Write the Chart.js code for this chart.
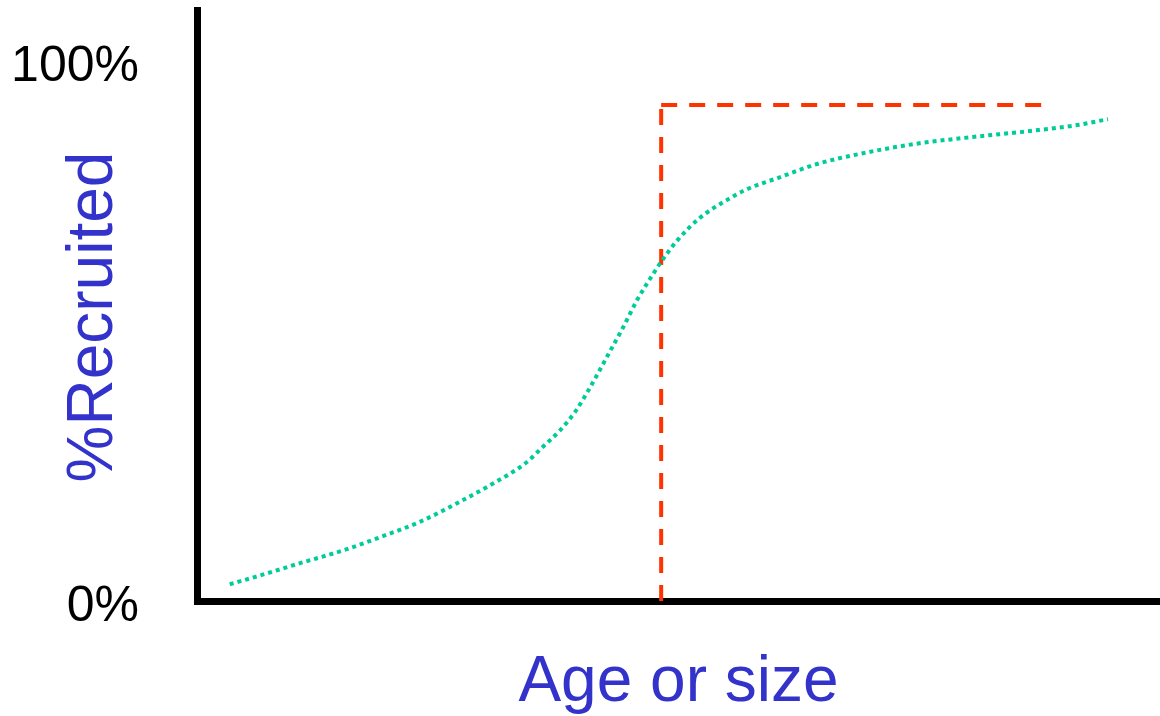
<!DOCTYPE html>
<html>
<head>
<meta charset="utf-8">
<script src="https://cdn.jsdelivr.net/npm/chart.js@4"></script>
<style>
  html, body { margin: 0; padding: 0; background: #fff; }
  #wrap { width: 1160px; height: 716px; }
</style>
</head>
<body>
<div id="wrap"><canvas id="selectChart" width="1160" height="716"></canvas></div>
<script>
// selectivity curve (age/size units on x, % recruited on y)
const curveX = [0.34, 0.65, 1.07, 1.54, 1.93, 2.32, 2.70, 3.06, 3.41, 3.59, 3.77, 3.93, 4.10, 4.26, 4.42, 4.57, 4.75, 4.84, 4.99, 5.22, 5.50, 5.72, 6.03, 6.44, 6.92, 7.49, 8.06, 8.65, 9.14, 9.46];
const curveY = [3.1, 4.7, 7.0, 9.5, 12.0, 14.7, 18.1, 21.6, 25.5, 28.5, 31.6, 35.1, 40.1, 45.3, 50.5, 55.7, 60.9, 63.3, 66.8, 70.9, 74.2, 76.3, 78.3, 80.9, 82.9, 84.7, 85.9, 87.0, 88.1, 89.2];

// knife-edge recruitment
const knifeX = [4.82, 4.82, 8.78];
const knifeY = [0, 91.8, 91.8];

const yTickValues = [0, 100];
const yTickLabels = ["0%", "100%"];
const xTitle = "Age or size";
const yTitle = "%Recruited";

const FONT = "'Liberation Sans', Arial, Helvetica, sans-serif";
const BLUE = "#3333cc";

const toPoints = (xs, ys) => xs.map((x, i) => ({ x: x, y: ys[i] }));

// y title sits over the tick label column, so draw it by hand
const yTitlePlugin = {
    id: "yTitle",
    afterDraw(chart) {
        const ctx = chart.ctx;
        ctx.save();
        ctx.translate(112, 317);
        ctx.rotate(-Math.PI / 2);
        ctx.font = "64px " + FONT;
        ctx.fillStyle = BLUE;
        ctx.textAlign = "center";
        ctx.textBaseline = "alphabetic";
        ctx.fillText(yTitle, 0, 0);
        ctx.restore();
    },
};

new Chart(document.getElementById("selectChart"), {
    type: "line",
    data: {
        datasets: [
            {
                data: toPoints(curveX, curveY),
                borderColor: "#00cc99",
                borderWidth: 4,
                borderDash: [4, 4],
                borderCapStyle: "butt",
                cubicInterpolationMode: "monotone",
                pointRadius: 0,
                fill: false,
            },
            {
                data: toPoints(knifeX.slice(0, 2), knifeY.slice(0, 2)),
                borderColor: "#ff3300",
                borderWidth: 4,
                borderDash: [16, 12],
                pointRadius: 0,
                tension: 0,
                fill: false,
            },
            {
                data: toPoints(knifeX.slice(1), knifeY.slice(1)),
                borderColor: "#ff3300",
                borderWidth: 4,
                borderDash: [16, 12],
                pointRadius: 0,
                tension: 0,
                fill: false,
            },
        ],
    },
    options: {
        responsive: false,
        animation: false,
        layout: { padding: { top: 10, right: 0, bottom: 0, left: 0 } },
        plugins: {
            legend: { display: false },
            tooltip: { enabled: false },
        },
        scales: {
            x: {
                type: "linear",
                min: 0,
                max: 10,
                grid: { display: false, drawTicks: false },
                border: { display: true, color: "#000", width: 7 },
                ticks: { display: false },
                title: {
                    display: true,
                    text: xTitle,
                    color: BLUE,
                    font: { family: FONT, size: 64, lineHeight: 1 },
                    padding: { top: 0, bottom: 1 },
                },
                afterFit: (scale) => {
                    scale.height = 115;
                    scale.paddingLeft = 0;
                    scale.paddingRight = 0;
                },
            },
            y: {
                type: "linear",
                min: 0,
                max: 109.4,
                grid: { display: false, drawTicks: false },
                border: { display: true, color: "#000", width: 7 },
                afterBuildTicks: (scale) => {
                    scale.ticks = yTickValues.map((v) => ({ value: v }));
                },
                ticks: {
                    color: "#000",
                    font: { family: FONT, size: 50 },
                    padding: 58,
                    labelOffset: 6,
                    callback: (v) => yTickLabels[yTickValues.indexOf(v)],
                },
                afterFit: (scale) => {
                    scale.width = 197;
                    scale.paddingTop = 0;
                    scale.paddingBottom = 0;
                },
            },
        },
    },
    plugins: [yTitlePlugin],
});
</script>
</body>
</html>
